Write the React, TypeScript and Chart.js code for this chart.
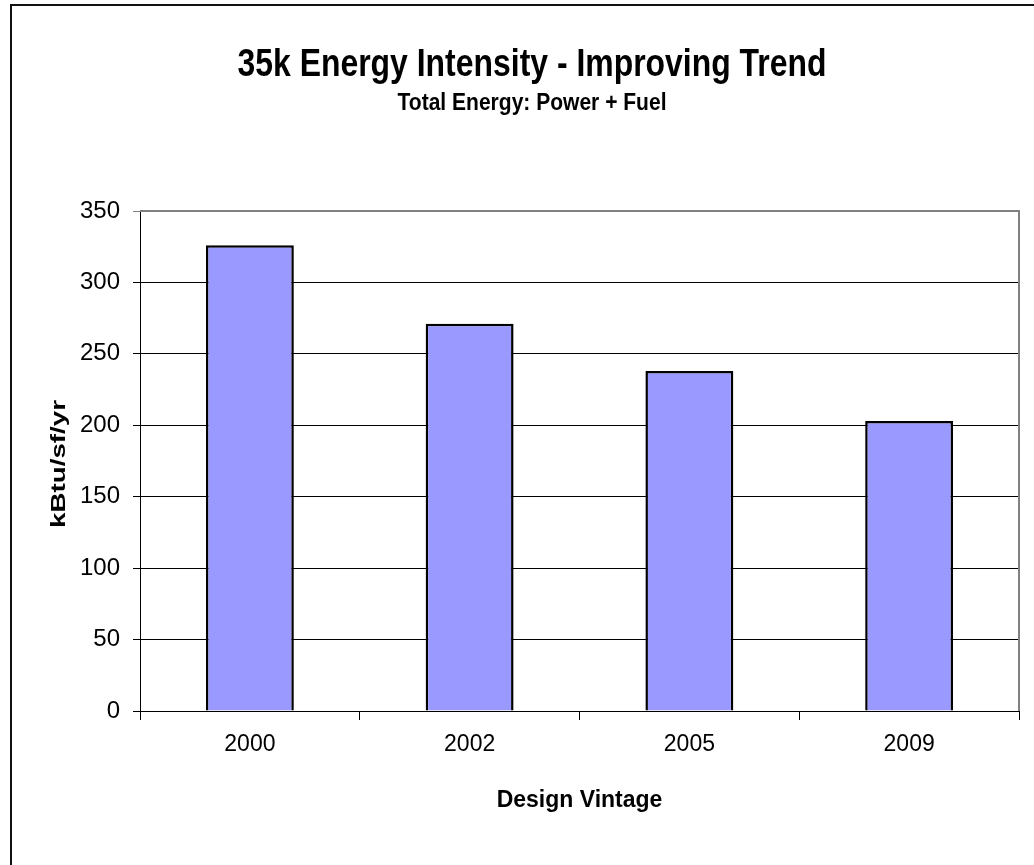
import React, { useEffect, useRef } from "react";
import { Chart, registerables } from "chart.js";

Chart.register(...registerables);

const categories = ["2000", "2002", "2005", "2009"];
const energyIntensity = [326, 271, 238, 203];
const yTicks = [0, 50, 100, 150, 200, 250, 300, 350];

const titleText = "35k Energy Intensity - Improving Trend";
const subtitleText = "Total Energy: Power + Fuel";
const yTitle = "kBtu/sf/yr";
const xTitle = "Design Vintage";

const FONT = "'Liberation Sans', Arial, Helvetica, sans-serif";

function drawFitted(ctx: CanvasRenderingContext2D, text: string, font: string, x: number, y: number, targetW: number, rot: number) {
  ctx.save();
  ctx.font = font;
  const w = ctx.measureText(text).width;
  const sx = targetW / w;
  ctx.translate(x, y);
  ctx.rotate(rot);
  ctx.scale(sx, 1);
  ctx.fillStyle = "#000";
  ctx.textAlign = "center";
  ctx.textBaseline = "alphabetic";
  ctx.fillText(text, 0, 0);
  ctx.restore();
}

const framePlugin = {
  id: "frame",
  beforeDatasetsDraw(chart: any) {
    const { ctx, chartArea } = chart;
    ctx.save();
    ctx.strokeStyle = "#808080";
    ctx.lineWidth = 2;
    ctx.beginPath();
    ctx.moveTo(chartArea.left, chartArea.top);
    ctx.lineTo(chartArea.right, chartArea.top);
    ctx.lineTo(chartArea.right, chartArea.bottom);
    ctx.stroke();
    ctx.restore();
  },
  afterDraw(chart: any) {
    const { ctx, width, height } = chart;
    ctx.save();
    ctx.strokeStyle = "#111";
    ctx.lineWidth = 2;
    ctx.beginPath();
    ctx.moveTo(11, height);
    ctx.lineTo(11, 5);
    ctx.lineTo(width, 5);
    ctx.stroke();
    ctx.restore();
    // titles
    drawFitted(ctx, titleText, `bold 38px ${FONT}`, 532, 76, 589, 0);
    drawFitted(ctx, subtitleText, `bold 23px ${FONT}`, 532, 109.5, 269, 0);
    const ca = chart.chartArea;
    drawFitted(ctx, yTitle, `bold 20px ${FONT}`, 64.5, (ca.top + ca.bottom) / 2 + 3, 128, -Math.PI / 2);
  },
};

export default function App() {
  const ref = useRef<HTMLCanvasElement | null>(null);

  useEffect(() => {
    if (!ref.current) return;
    const chart = new Chart(ref.current, {
      type: "bar",
      data: {
        labels: categories,
        datasets: [
          {
            label: "Energy Intensity",
            data: energyIntensity,
            backgroundColor: "#9999ff",
            borderColor: "#000",
            borderWidth: 2.5,
            categoryPercentage: 1,
            barPercentage: 0.4,
          },
        ],
      },
      options: {
        responsive: false,
        animation: false,
        layout: { padding: { left: 0, right: 15, top: 211, bottom: 0 } },
        plugins: {
          legend: { display: false },
          tooltip: { enabled: false },
          title: { display: false },
        },
        scales: {
          x: {
            grid: {
              offset: true,
              drawOnChartArea: false,
              drawTicks: true,
              tickLength: 9,
              color: "#000",
              lineWidth: 1,
            },
            border: { color: "#000", width: 1 },
            ticks: {
              color: "#000",
              font: { family: FONT, size: 23 },
              padding: 11,
              maxRotation: 0,
            },
            title: {
              display: true,
              text: xTitle,
              color: "#000",
              font: { family: FONT, size: 23, weight: "bold", lineHeight: 1.2 },
              padding: { top: 0, bottom: 51 },
            },
            afterFit: (s: any) => {
              s.height = 154;
            },
          },
          y: {
            min: 0,
            max: 350,
            afterBuildTicks: (s: any) => {
              s.ticks = yTicks.map((v) => ({ value: v }));
            },
            grid: {
              color: (c: any) => (c.tick && c.tick.value === 350 ? "#808080" : "#000"),
              lineWidth: 1,
              drawTicks: true,
              tickLength: 7,
            },
            border: { color: "#000", width: 1 },
            ticks: {
              color: "#000",
              font: { family: FONT, size: 24 },
              padding: 13,
            },
            title: { display: false },
            afterFit: (s: any) => {
              s.width = 140;
            },
          },
        },
      },
      plugins: [framePlugin],
    });
    return () => chart.destroy();
  }, []);

  return (
    <div style={{ position: "absolute", left: 0, top: 0, width: 1034, height: 865, background: "#fff" }}>
      <canvas ref={ref} width={1034} height={865} style={{ display: "block" }} />
    </div>
  );
}
